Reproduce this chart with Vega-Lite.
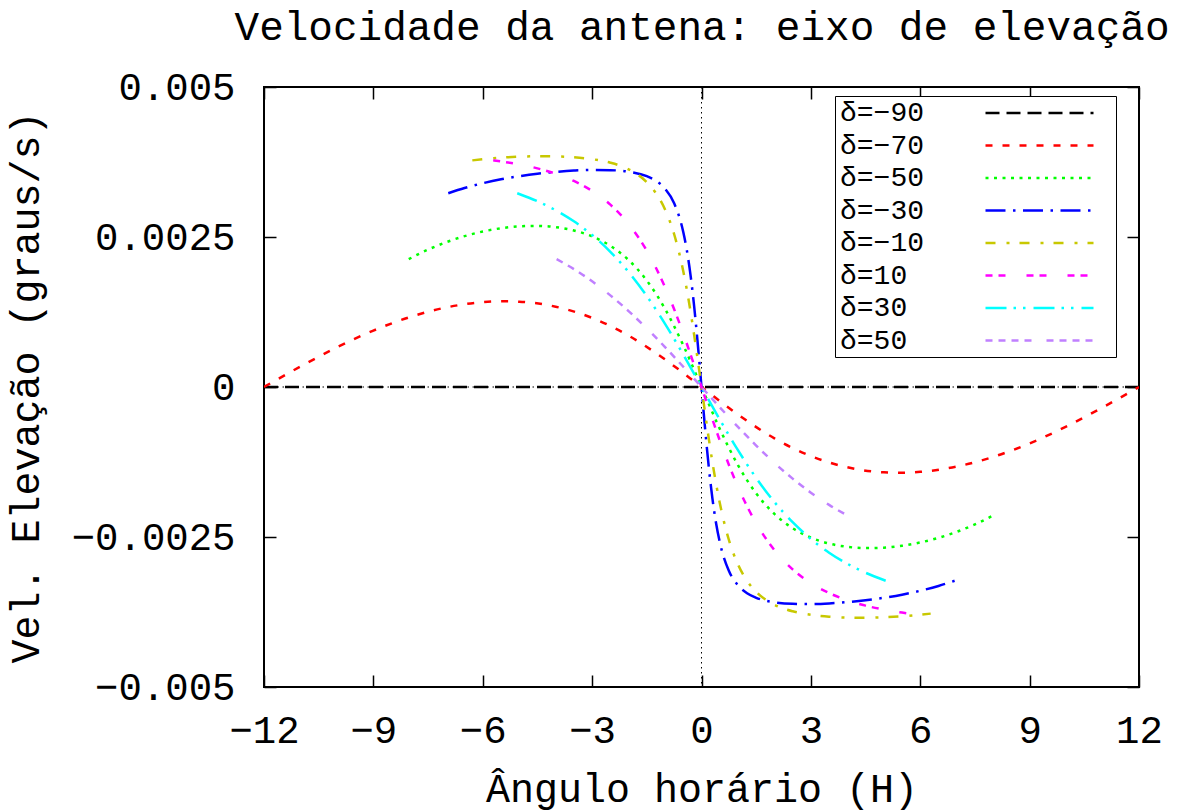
{
  "$schema": "https://vega.github.io/schema/vega-lite/v6.json",
  "width": 875,
  "height": 600,
  "autosize": {"type": "none"},
  "padding": {"left": 264, "top": 87, "right": 39, "bottom": 125},
  "background": "white",
  "config": {
    "view": {"stroke": "black", "strokeWidth": 2},
    "axis": {
      "grid": false,
      "domain": false,
      "labelFont": "Liberation Mono",
      "labelFontSize": 39,
      "labelColor": "black",
      "titleFont": "Liberation Mono",
      "titleFontSize": 40,
      "titleFontWeight": "normal",
      "titleColor": "black",
      "tickColor": "black",
      "tickSize": -12,
      "tickWidth": 1.5
    }
  },
  "datasets": {
    "zero": [{"v": 0}],
    "curves": [
      {"d": "δ=−90", "H": -12, "v": 0},
      {"d": "δ=−90", "H": 0, "v": 0},
      {"d": "δ=−90", "H": 12, "v": 0},

      {"d": "δ=−70", "H": -12, "v": 0},
      {"d": "δ=−70", "H": -11, "v": 0.000341},
      {"d": "δ=−70", "H": -10, "v": 0.000661},
      {"d": "δ=−70", "H": -9, "v": 0.000940},
      {"d": "δ=−70", "H": -8, "v": 0.001165},
      {"d": "δ=−70", "H": -7, "v": 0.001326},
      {"d": "δ=−70", "H": -6, "v": 0.001414},
      {"d": "δ=−70", "H": -5.5, "v": 0.001429},
      {"d": "δ=−70", "H": -5, "v": 0.001422},
      {"d": "δ=−70", "H": -4, "v": 0.001338},
      {"d": "δ=−70", "H": -3, "v": 0.001152},
      {"d": "δ=−70", "H": -2, "v": 0.000856},
      {"d": "δ=−70", "H": -1, "v": 0.000459},
      {"d": "δ=−70", "H": 0, "v": 0},
      {"d": "δ=−70", "H": 1, "v": -0.000459},
      {"d": "δ=−70", "H": 2, "v": -0.000856},
      {"d": "δ=−70", "H": 3, "v": -0.001152},
      {"d": "δ=−70", "H": 4, "v": -0.001338},
      {"d": "δ=−70", "H": 5, "v": -0.001422},
      {"d": "δ=−70", "H": 5.5, "v": -0.001429},
      {"d": "δ=−70", "H": 6, "v": -0.001414},
      {"d": "δ=−70", "H": 7, "v": -0.001326},
      {"d": "δ=−70", "H": 8, "v": -0.001165},
      {"d": "δ=−70", "H": 9, "v": -0.000940},
      {"d": "δ=−70", "H": 10, "v": -0.000661},
      {"d": "δ=−70", "H": 11, "v": -0.000341},
      {"d": "δ=−70", "H": 12, "v": 0},

      {"d": "δ=−50", "H": -8.03, "v": 0.002131},
      {"d": "δ=−50", "H": -7.5, "v": 0.002290},
      {"d": "δ=−50", "H": -7, "v": 0.002414},
      {"d": "δ=−50", "H": -6, "v": 0.002591},
      {"d": "δ=−50", "H": -5.5, "v": 0.002646},
      {"d": "δ=−50", "H": -5, "v": 0.002678},
      {"d": "δ=−50", "H": -4.5, "v": 0.002685},
      {"d": "δ=−50", "H": -4, "v": 0.002664},
      {"d": "δ=−50", "H": -3.5, "v": 0.002609},
      {"d": "δ=−50", "H": -3, "v": 0.002510},
      {"d": "δ=−50", "H": -2.5, "v": 0.002353},
      {"d": "δ=−50", "H": -2, "v": 0.002116},
      {"d": "δ=−50", "H": -1.5, "v": 0.001774},
      {"d": "δ=−50", "H": -1, "v": 0.001302},
      {"d": "δ=−50", "H": -0.5, "v": 0.000696},
      {"d": "δ=−50", "H": 0, "v": 0},
      {"d": "δ=−50", "H": 0.5, "v": -0.000696},
      {"d": "δ=−50", "H": 1, "v": -0.001302},
      {"d": "δ=−50", "H": 1.5, "v": -0.001774},
      {"d": "δ=−50", "H": 2, "v": -0.002116},
      {"d": "δ=−50", "H": 2.5, "v": -0.002353},
      {"d": "δ=−50", "H": 3, "v": -0.002510},
      {"d": "δ=−50", "H": 3.5, "v": -0.002609},
      {"d": "δ=−50", "H": 4, "v": -0.002664},
      {"d": "δ=−50", "H": 4.5, "v": -0.002685},
      {"d": "δ=−50", "H": 5, "v": -0.002678},
      {"d": "δ=−50", "H": 5.5, "v": -0.002646},
      {"d": "δ=−50", "H": 6, "v": -0.002591},
      {"d": "δ=−50", "H": 7, "v": -0.002414},
      {"d": "δ=−50", "H": 7.5, "v": -0.002290},
      {"d": "δ=−50", "H": 8.03, "v": -0.002131},

      {"d": "δ=−30", "H": -6.946, "v": 0.003229},
      {"d": "δ=−30", "H": -6.5, "v": 0.003316},
      {"d": "δ=−30", "H": -6, "v": 0.003396},
      {"d": "δ=−30", "H": -5.5, "v": 0.003461},
      {"d": "δ=−30", "H": -5, "v": 0.003513},
      {"d": "δ=−30", "H": -4.5, "v": 0.003554},
      {"d": "δ=−30", "H": -4, "v": 0.003585},
      {"d": "δ=−30", "H": -3.5, "v": 0.003607},
      {"d": "δ=−30", "H": -3, "v": 0.003618},
      {"d": "δ=−30", "H": -2.5, "v": 0.003614},
      {"d": "δ=−30", "H": -2, "v": 0.003588},
      {"d": "δ=−30", "H": -1.5, "v": 0.003513},
      {"d": "δ=−30", "H": -1.25, "v": 0.003437},
      {"d": "δ=−30", "H": -1, "v": 0.003305},
      {"d": "δ=−30", "H": -0.75, "v": 0.003063},
      {"d": "δ=−30", "H": -0.5, "v": 0.002582},
      {"d": "δ=−30", "H": -0.4, "v": 0.002271},
      {"d": "δ=−30", "H": -0.3, "v": 0.001861},
      {"d": "δ=−30", "H": -0.2, "v": 0.001336},
      {"d": "δ=−30", "H": -0.1, "v": 0.000703},
      {"d": "δ=−30", "H": -0.05, "v": 0.000356},
      {"d": "δ=−30", "H": 0, "v": 0},
      {"d": "δ=−30", "H": 0.05, "v": -0.000356},
      {"d": "δ=−30", "H": 0.1, "v": -0.000703},
      {"d": "δ=−30", "H": 0.2, "v": -0.001336},
      {"d": "δ=−30", "H": 0.3, "v": -0.001861},
      {"d": "δ=−30", "H": 0.4, "v": -0.002271},
      {"d": "δ=−30", "H": 0.5, "v": -0.002582},
      {"d": "δ=−30", "H": 0.75, "v": -0.003063},
      {"d": "δ=−30", "H": 1, "v": -0.003305},
      {"d": "δ=−30", "H": 1.25, "v": -0.003437},
      {"d": "δ=−30", "H": 1.5, "v": -0.003513},
      {"d": "δ=−30", "H": 2, "v": -0.003588},
      {"d": "δ=−30", "H": 2.5, "v": -0.003614},
      {"d": "δ=−30", "H": 3, "v": -0.003618},
      {"d": "δ=−30", "H": 3.5, "v": -0.003607},
      {"d": "δ=−30", "H": 4, "v": -0.003585},
      {"d": "δ=−30", "H": 4.5, "v": -0.003554},
      {"d": "δ=−30", "H": 5, "v": -0.003513},
      {"d": "δ=−30", "H": 5.5, "v": -0.003461},
      {"d": "δ=−30", "H": 6, "v": -0.003396},
      {"d": "δ=−30", "H": 6.5, "v": -0.003316},
      {"d": "δ=−30", "H": 6.946, "v": -0.003229},

      {"d": "δ=−10", "H": -6.286, "v": 0.003777},
      {"d": "δ=−10", "H": -6, "v": 0.003796},
      {"d": "δ=−10", "H": -5.5, "v": 0.003822},
      {"d": "δ=−10", "H": -5, "v": 0.003838},
      {"d": "δ=−10", "H": -4.5, "v": 0.003846},
      {"d": "δ=−10", "H": -4, "v": 0.003843},
      {"d": "δ=−10", "H": -3.5, "v": 0.003829},
      {"d": "δ=−10", "H": -3, "v": 0.003797},
      {"d": "δ=−10", "H": -2.5, "v": 0.003738},
      {"d": "δ=−10", "H": -2, "v": 0.003628},
      {"d": "δ=−10", "H": -1.5, "v": 0.003413},
      {"d": "δ=−10", "H": -1.25, "v": 0.003230},
      {"d": "δ=−10", "H": -1, "v": 0.002958},
      {"d": "δ=−10", "H": -0.75, "v": 0.002546},
      {"d": "δ=−10", "H": -0.5, "v": 0.001929},
      {"d": "δ=−10", "H": -0.4, "v": 0.001613},
      {"d": "δ=−10", "H": -0.3, "v": 0.001255},
      {"d": "δ=−10", "H": -0.2, "v": 0.000861},
      {"d": "δ=−10", "H": -0.1, "v": 0.000438},
      {"d": "δ=−10", "H": 0, "v": 0},
      {"d": "δ=−10", "H": 0.1, "v": -0.000438},
      {"d": "δ=−10", "H": 0.2, "v": -0.000861},
      {"d": "δ=−10", "H": 0.3, "v": -0.001255},
      {"d": "δ=−10", "H": 0.4, "v": -0.001613},
      {"d": "δ=−10", "H": 0.5, "v": -0.001929},
      {"d": "δ=−10", "H": 0.75, "v": -0.002546},
      {"d": "δ=−10", "H": 1, "v": -0.002958},
      {"d": "δ=−10", "H": 1.25, "v": -0.003230},
      {"d": "δ=−10", "H": 1.5, "v": -0.003413},
      {"d": "δ=−10", "H": 2, "v": -0.003628},
      {"d": "δ=−10", "H": 2.5, "v": -0.003738},
      {"d": "δ=−10", "H": 3, "v": -0.003797},
      {"d": "δ=−10", "H": 3.5, "v": -0.003829},
      {"d": "δ=−10", "H": 4, "v": -0.003843},
      {"d": "δ=−10", "H": 4.5, "v": -0.003846},
      {"d": "δ=−10", "H": 5, "v": -0.003838},
      {"d": "δ=−10", "H": 5.5, "v": -0.003822},
      {"d": "δ=−10", "H": 6, "v": -0.003796},
      {"d": "δ=−10", "H": 6.286, "v": -0.003777},

      {"d": "δ=10", "H": -5.714, "v": 0.003777},
      {"d": "δ=10", "H": -5.5, "v": 0.003760},
      {"d": "δ=10", "H": -5, "v": 0.003710},
      {"d": "δ=10", "H": -4.5, "v": 0.003644},
      {"d": "δ=10", "H": -4, "v": 0.003555},
      {"d": "δ=10", "H": -3.5, "v": 0.003434},
      {"d": "δ=10", "H": -3, "v": 0.003268},
      {"d": "δ=10", "H": -2.5, "v": 0.003039},
      {"d": "δ=10", "H": -2, "v": 0.002718},
      {"d": "δ=10", "H": -1.5, "v": 0.002270},
      {"d": "δ=10", "H": -1.25, "v": 0.001988},
      {"d": "δ=10", "H": -1, "v": 0.001663},
      {"d": "δ=10", "H": -0.75, "v": 0.001295},
      {"d": "δ=10", "H": -0.5, "v": 0.000889},
      {"d": "δ=10", "H": -0.25, "v": 0.000452},
      {"d": "δ=10", "H": 0, "v": 0},
      {"d": "δ=10", "H": 0.25, "v": -0.000452},
      {"d": "δ=10", "H": 0.5, "v": -0.000889},
      {"d": "δ=10", "H": 0.75, "v": -0.001295},
      {"d": "δ=10", "H": 1, "v": -0.001663},
      {"d": "δ=10", "H": 1.25, "v": -0.001988},
      {"d": "δ=10", "H": 1.5, "v": -0.002270},
      {"d": "δ=10", "H": 2, "v": -0.002718},
      {"d": "δ=10", "H": 2.5, "v": -0.003039},
      {"d": "δ=10", "H": 3, "v": -0.003268},
      {"d": "δ=10", "H": 3.5, "v": -0.003434},
      {"d": "δ=10", "H": 4, "v": -0.003555},
      {"d": "δ=10", "H": 4.5, "v": -0.003644},
      {"d": "δ=10", "H": 5, "v": -0.003710},
      {"d": "δ=10", "H": 5.5, "v": -0.003760},
      {"d": "δ=10", "H": 5.714, "v": -0.003777},

      {"d": "δ=30", "H": -5.054, "v": 0.003229},
      {"d": "δ=30", "H": -5, "v": 0.003217},
      {"d": "δ=30", "H": -4.5, "v": 0.003096},
      {"d": "δ=30", "H": -4, "v": 0.002946},
      {"d": "δ=30", "H": -3.5, "v": 0.002761},
      {"d": "δ=30", "H": -3, "v": 0.002533},
      {"d": "δ=30", "H": -2.5, "v": 0.002254},
      {"d": "δ=30", "H": -2, "v": 0.001917},
      {"d": "δ=30", "H": -1.5, "v": 0.001516},
      {"d": "δ=30", "H": -1, "v": 0.001053},
      {"d": "δ=30", "H": -0.5, "v": 0.000541},
      {"d": "δ=30", "H": 0, "v": 0},
      {"d": "δ=30", "H": 0.5, "v": -0.000541},
      {"d": "δ=30", "H": 1, "v": -0.001053},
      {"d": "δ=30", "H": 1.5, "v": -0.001516},
      {"d": "δ=30", "H": 2, "v": -0.001917},
      {"d": "δ=30", "H": 2.5, "v": -0.002254},
      {"d": "δ=30", "H": 3, "v": -0.002533},
      {"d": "δ=30", "H": 3.5, "v": -0.002761},
      {"d": "δ=30", "H": 4, "v": -0.002946},
      {"d": "δ=30", "H": 4.5, "v": -0.003096},
      {"d": "δ=30", "H": 5, "v": -0.003217},
      {"d": "δ=30", "H": 5.054, "v": -0.003229},

      {"d": "δ=50", "H": -3.974, "v": 0.002132},
      {"d": "δ=50", "H": -3.5, "v": 0.001965},
      {"d": "δ=50", "H": -3, "v": 0.001761},
      {"d": "δ=50", "H": -2.5, "v": 0.001527},
      {"d": "δ=50", "H": -2, "v": 0.001265},
      {"d": "δ=50", "H": -1.5, "v": 0.000976},
      {"d": "δ=50", "H": -1, "v": 0.000665},
      {"d": "δ=50", "H": -0.5, "v": 0.000337},
      {"d": "δ=50", "H": 0, "v": 0},
      {"d": "δ=50", "H": 0.5, "v": -0.000337},
      {"d": "δ=50", "H": 1, "v": -0.000665},
      {"d": "δ=50", "H": 1.5, "v": -0.000976},
      {"d": "δ=50", "H": 2, "v": -0.001265},
      {"d": "δ=50", "H": 2.5, "v": -0.001527},
      {"d": "δ=50", "H": 3, "v": -0.001761},
      {"d": "δ=50", "H": 3.5, "v": -0.001965},
      {"d": "δ=50", "H": 3.974, "v": -0.002132}
    ]
  },
  "layer": [
    {
      "data": {"name": "zero"},
      "mark": {"type": "rule", "color": "black", "strokeWidth": 1, "strokeDash": [1.5, 3.5]},
      "encoding": {
        "y": {
          "field": "v", "type": "quantitative",
          "scale": {"domain": [-0.005, 0.005], "nice": false, "zero": false},
          "axis": {"orient": "right", "labels": false, "title": null, "values": [-0.005, -0.0025, 0, 0.0025, 0.005]}
        }
      }
    },
    {
      "data": {"name": "zero"},
      "mark": {"type": "rule", "color": "black", "strokeWidth": 1, "strokeDash": [1.5, 3.5]},
      "encoding": {
        "x": {
          "field": "v", "type": "quantitative",
          "scale": {"domain": [-12, 12], "nice": false, "zero": false},
          "axis": {
            "orient": "top", "labels": false,
            "title": "Velocidade da antena: eixo de elevação",
            "titleFontSize": 41,
            "titleBaseline": "alphabetic",
            "titlePadding": 47,
            "values": [-12, -9, -6, -3, 0, 3, 6, 9, 12]
          }
        }
      }
    },
    {
      "data": {"name": "curves"},
      "mark": {"type": "line", "strokeWidth": 2.5, "interpolate": "monotone", "clip": true},
      "encoding": {
        "x": {
          "field": "H", "type": "quantitative",
          "scale": {"domain": [-12, 12], "nice": false, "zero": false},
          "axis": {"orient": "bottom", "title": "Ângulo horário (H)", "values": [-12, -9, -6, -3, 0, 3, 6, 9, 12], "format": "d", "labelPadding": 36, "titlePadding": 19, "labelFlush": false}
        },
        "y": {
          "field": "v", "type": "quantitative",
          "scale": {"domain": [-0.005, 0.005], "nice": false, "zero": false},
          "axis": {"orient": "left", "title": "Vel. Elevação (graus/s)", "values": [-0.005, -0.0025, 0, 0.0025, 0.005], "format": ".4~f", "labelPadding": 41, "titlePadding": 25, "labelFlush": false}
        },
        "color": {
          "field": "d", "type": "nominal",
          "scale": {
            "domain": ["δ=−90", "δ=−70", "δ=−50", "δ=−30", "δ=−10", "δ=10", "δ=30", "δ=50"],
            "range": ["#000000", "#ff0000", "#00ff00", "#0000ff", "#c8c800", "#ff00ff", "#00ffff", "#c080ff"]
          },
          "legend": {
            "orient": "none",
            "legendX": 571,
            "legendY": 9,
            "title": "\u00a0",
            "titleOrient": "right",
            "titlePadding": 15,
            "titleFontSize": 20,
            "symbolType": "M-4,0H4",
            "symbolSize": 729,
            "symbolStrokeWidth": 2.5,
            "symbolOffset": 187.5,
            "labelOffset": -214.5,
            "rowPadding": 3.5,
            "padding": 2,
            "strokeColor": "black",
            "fillColor": "white",
            "labelFont": "Liberation Mono",
            "labelFontSize": 28,
            "labelColor": "black",
            "labelLimit": 400
          }
        },
        "strokeDash": {
          "field": "d", "type": "nominal",
          "scale": {
            "domain": ["δ=−90", "δ=−70", "δ=−50", "δ=−30", "δ=−10", "δ=10", "δ=30", "δ=50"],
            "range": [[14, 7], [7, 10], [3, 5.5], [20, 7.5, 2.5, 7.5], [10, 11, 3, 10], [7, 6, 7, 21], [21, 7, 2.5, 7, 2.5, 8], [7, 6, 7, 6, 7, 6, 7, 15]]
          }
        }
      }
    }
  ],
  "resolve": {"axis": {"x": "independent", "y": "independent"}}
}
